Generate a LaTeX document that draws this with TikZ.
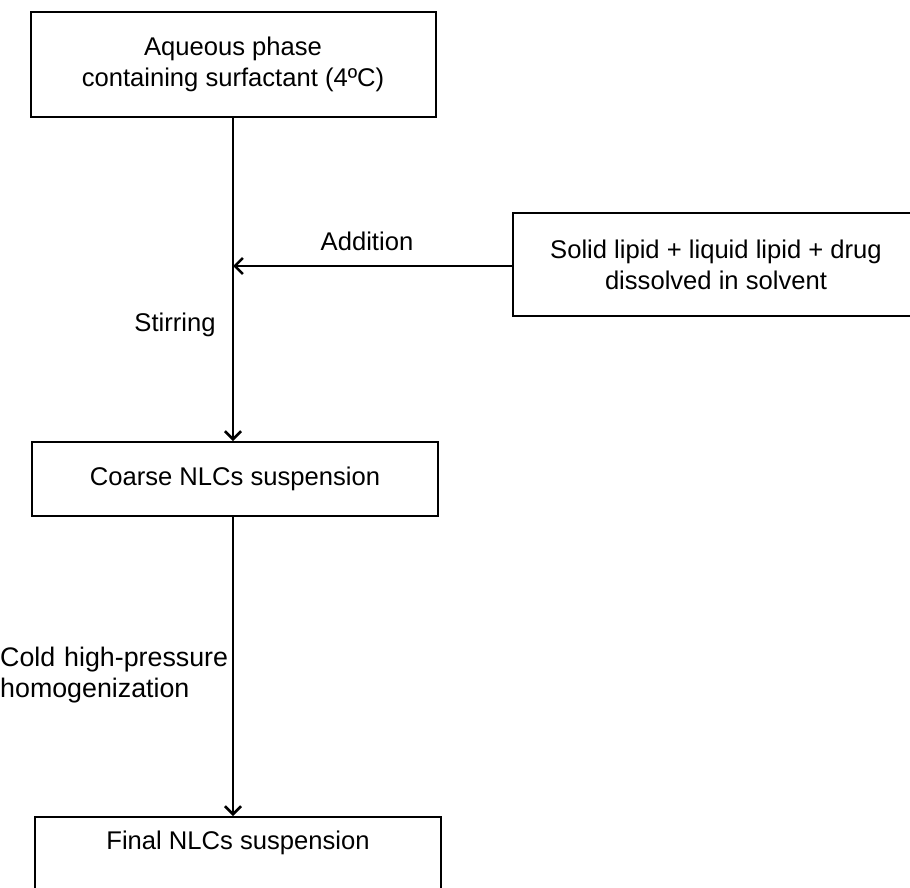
\documentclass[tikz,border=0pt]{standalone}
\usepackage{fontspec}
\setmainfont{Liberation Sans}
\usetikzlibrary{arrows.meta}
\begin{document}
\begin{tikzpicture}[x=1pt,y=-1pt,
  every node/.style={font=\fontsize{25.6}{31}\selectfont},
  boxstyle/.style={draw, line width=2pt, rectangle, inner sep=0pt, align=center},
  flow/.style={line width=2.8pt, -{Straight Barb[length=8pt,width=16pt,line width=2.6pt]}},
  lbl/.style={inner sep=0pt, align=left}]
\useasboundingbox (0,0) rectangle (910,888);
\node[boxstyle, minimum width=405pt, minimum height=105pt] (aq) at (233,64.5) {Aqueous phase\\containing surfactant (4ºC)};
\node[boxstyle, minimum width=406pt, minimum height=103pt] (lip) at (716,264.5) {Solid lipid + liquid lipid + drug\\dissolved in solvent};
\node[boxstyle, minimum width=406pt, minimum height=74pt] (coarse) at (235,479) {Coarse NLCs suspension};
\node[boxstyle, minimum width=406pt, minimum height=74pt, text height=18.5pt, text depth=27pt] (final) at (238,854) {Final NLCs suspension};
\coordinate (join) at (233,266);
\draw[line width=2.8pt] (aq.south -| join) -- (join);
\draw[flow] (join) -- (coarse.north -| join);
\draw[flow] (lip.west |- join) -- (join);
\draw[flow] (coarse.south -| join) -- (final.north -| join);
\node[lbl] (add) at (367,241) {Addition};
\node[lbl] (stir) at (175,325) {Stirring};
\node[lbl, anchor=west, text width=240pt, font=\fontsize{26.8}{31}\selectfont] (chp) at (0,675) {Cold high-pressure\\homogenization};
\end{tikzpicture}
\end{document}
